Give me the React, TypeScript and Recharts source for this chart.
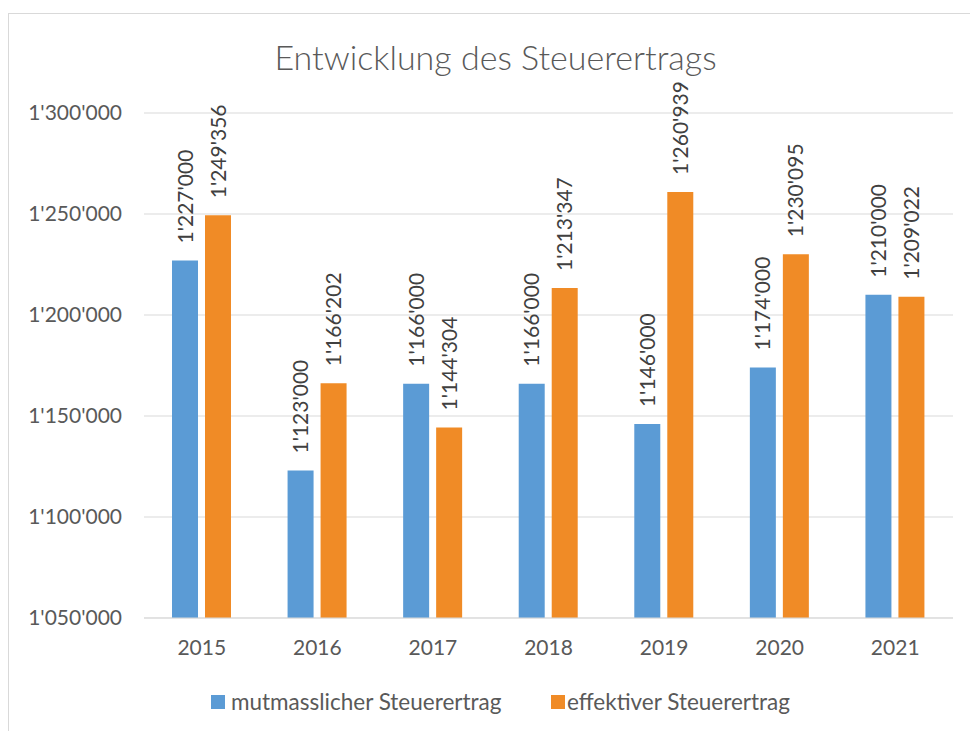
import { BarChart, Bar, XAxis, YAxis, CartesianGrid, LabelList } from 'recharts';

const years = ['2015', '2016', '2017', '2018', '2019', '2020', '2021'];
const mutmasslich = [1227000, 1123000, 1166000, 1166000, 1146000, 1174000, 1210000];
const effektiv = [1249356, 1166202, 1144304, 1213347, 1260939, 1230095, 1209022];
const yTicks = [1050000, 1100000, 1150000, 1200000, 1250000, 1300000];

const BLUE = '#5B9BD5';
const ORANGE = '#F08B26';
const FONT = 'Lato, "Open Sans", sans-serif';

const data = years.map((y, i) => ({ year: y, mutmasslich: mutmasslich[i], effektiv: effektiv[i] }));

const fmt = (v: number) => String(v).replace(/\B(?=(\d{3})+(?!\d))/g, "'");

const RotatedLabel = (props: any) => {
  const { x, y, width, value } = props;
  const cx = x + width / 2;
  return (
    <text
      transform={`translate(${cx},${y - 17}) rotate(-90)`}
      dy="0.36em"
      textAnchor="start"
      fill="#404040"
      fontSize={21}
      fontFamily={FONT}
    >
      {fmt(value)}
    </text>
  );
};

export default function App() {
  return (
    <div style={{ position: 'absolute', left: 0, top: 0, width: 970, height: 731, background: '#fff', overflow: 'hidden', fontFamily: FONT }}>
      <div style={{ position: 'absolute', left: 8, top: 13, width: 980, height: 740, border: '1px solid #d9d9d9' }} />
      <div style={{ position: 'absolute', left: 0, top: 37, width: 991, textAlign: 'center', fontSize: 34, fontWeight: 300, color: '#595959', lineHeight: '40px' }}>
        Entwicklung des Steuerertrags
      </div>
      <div style={{ position: 'absolute', left: 0, top: 0 }}>
        <BarChart width={970} height={731} data={data} barSize={26} barGap={7} margin={{ top: 113, right: 17, left: 0, bottom: 0 }}>
          <CartesianGrid vertical={false} stroke="#d9d9d9" />
          <XAxis
            dataKey="year"
            height={113}
            axisLine={{ stroke: '#d9d9d9' }}
            tickLine={false}
            tickSize={0}
            tickMargin={22}
            tick={{ fill: '#595959', fontSize: 21, fontFamily: FONT }}
          />
          <YAxis
            width={144}
            domain={[1050000, 1300000]}
            ticks={yTicks}
            allowDataOverflow
            axisLine={false}
            tickLine={false}
            tickSize={0}
            tickMargin={22}
            tickFormatter={fmt}
            tick={{ fill: '#595959', fontSize: 21, fontFamily: FONT }}
          />
          <Bar dataKey="mutmasslich" fill={BLUE} isAnimationActive={false}>
            <LabelList dataKey="mutmasslich" content={RotatedLabel} />
          </Bar>
          <Bar dataKey="effektiv" fill={ORANGE} isAnimationActive={false}>
            <LabelList dataKey="effektiv" content={RotatedLabel} />
          </Bar>
        </BarChart>
      </div>
      <div style={{ position: 'absolute', left: 211, top: 695, width: 14, height: 14, background: BLUE }} />
      <div style={{ position: 'absolute', left: 231, top: 688, fontSize: 22.5, lineHeight: '28px', color: '#595959' }}>mutmasslicher Steuerertrag</div>
      <div style={{ position: 'absolute', left: 551, top: 695, width: 14, height: 14, background: ORANGE }} />
      <div style={{ position: 'absolute', left: 567, top: 688, fontSize: 22.5, lineHeight: '28px', color: '#595959' }}>effektiver Steuerertrag</div>
    </div>
  );
}
